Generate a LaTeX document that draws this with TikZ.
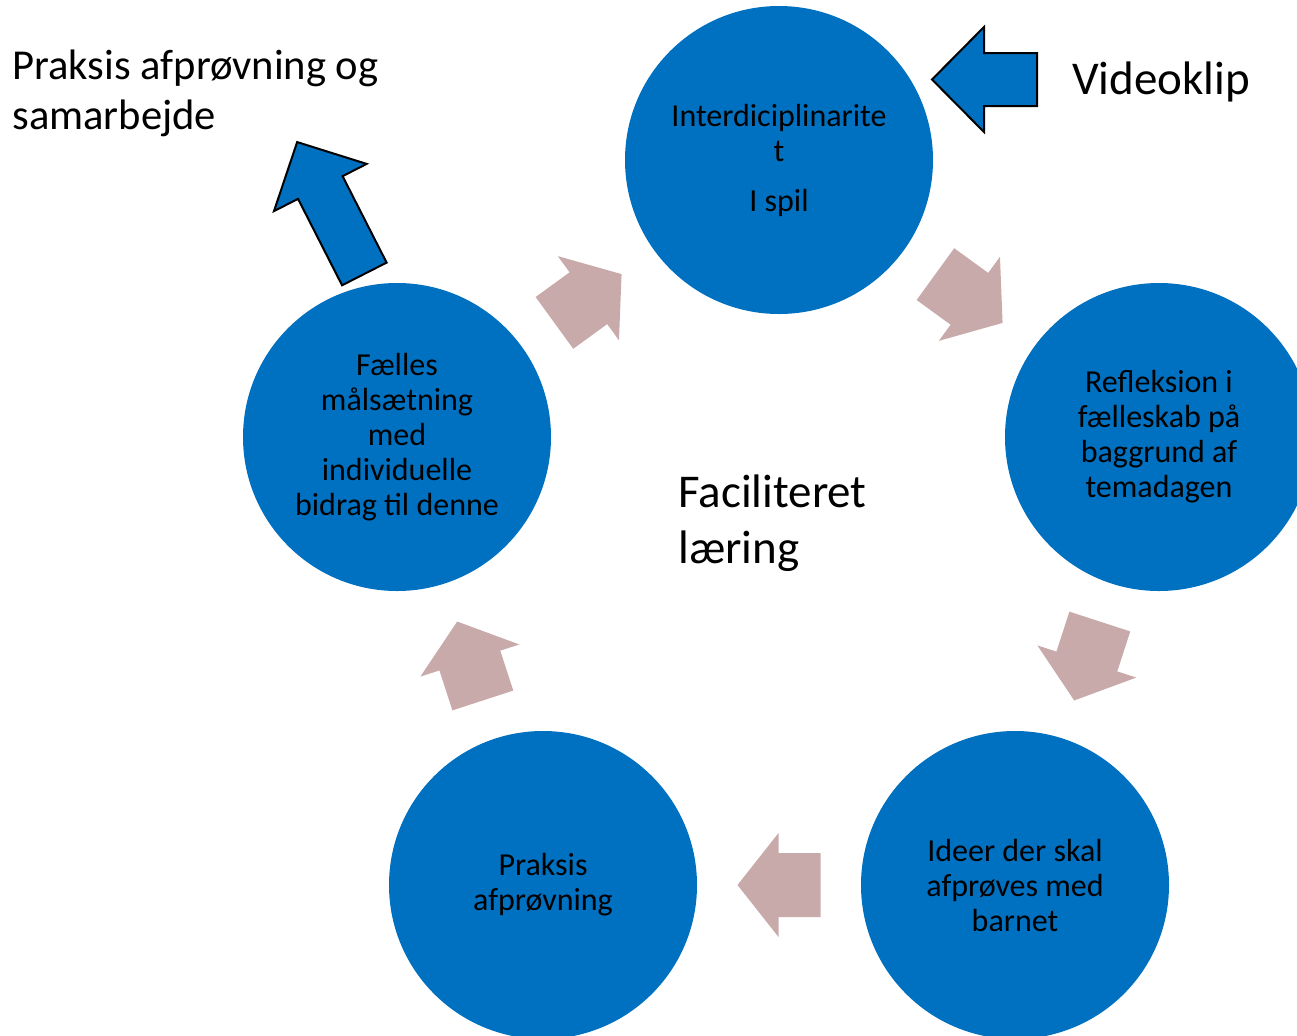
\documentclass[tikz,border=0pt]{standalone}
\usepackage{fontspec}
\setmainfont{Carlito}
\usepackage{tikz}
\usetikzlibrary{calc}

\definecolor{stageblue}{RGB}{0,112,192}
\definecolor{arrowpink}{RGB}{201,170,170}

% block arrow: style, centre, angle, length, head length, head half width, shaft half width
\newcommand{\blockarrow}[7]{%
  \begin{scope}[shift={#2}, rotate=#3]
    \path[#1] (-#4/2,-#7) -- (#4/2-#5,-#7) -- (#4/2-#5,-#6) -- (#4/2,0)
      -- (#4/2-#5,#6) -- (#4/2-#5,#7) -- (-#4/2,#7) -- cycle;
  \end{scope}}

\tikzset{
  stage/.style={circle, fill=stageblue, minimum size=154pt, inner sep=0pt,
    align=center, font=\fontsize{16}{17.5}\selectfont},
  cyclearrow/.style={fill=arrowpink},
  bluearrow/.style={fill=stageblue, draw=black, line width=1pt, line join=miter},
  bigtext/.style={align=left, inner sep=0pt, font=\fontsize{23.5}{28}\selectfont}
}

\begin{document}
\begin{tikzpicture}[x=0.5pt, y=-0.5pt]
  \clip (0,0) rectangle (1297,1035);

  % The five stages
  \node[stage] (play) at (779,160) {Interdiciplinarite\\t\\[7.5pt]I spil};
  \node[stage] (reflect) at (1159,437) {Refleksion i\\fælleskab på\\baggrund af\\temadagen};
  \node[stage] (ideas) at (1015,885) {Ideer der skal\\afprøves med\\barnet};
  \node[stage] (practice) at (543,885) {Praksis\\afprøvning};
  \node[stage] (goal) at (397,437) {Fælles\\målsætning\\med\\individuelle\\bidrag til denne};

  % Arrows round the cycle, half way between the stages
  \blockarrow{cyclearrow}{($(play)!0.5!(reflect)$)}{-36}{83}{41}{52}{32}
  \blockarrow{cyclearrow}{($(reflect)!0.5!(ideas)$)}{-108}{83}{41}{52}{32}
  \blockarrow{cyclearrow}{($(ideas)!0.5!(practice)$)}{180}{83}{41}{52}{32}
  \blockarrow{cyclearrow}{($(practice)!0.5!(goal)$)}{108}{83}{41}{52}{32}
  \blockarrow{cyclearrow}{($(goal)!0.5!(play)$)}{36}{83}{41}{52}{32}

  % In and out
  \blockarrow{bluearrow}{(984.5,79.5)}{180}{105}{52}{52.5}{26.5}
  \blockarrow{bluearrow}{(330.75,208)}{117}{148}{51}{52}{25}

  % Texts
  \node[bigtext, anchor=west] (centre) at (678,523) {Faciliteret\\læring};
  \node[bigtext] (video) at (1161,82) {Videoklip};
  \node[bigtext, anchor=west, font=\fontsize{21.3}{25}\selectfont] (outcome) at (12,93)
    {Praksis afprøvning og\\samarbejde};
\end{tikzpicture}
\end{document}
